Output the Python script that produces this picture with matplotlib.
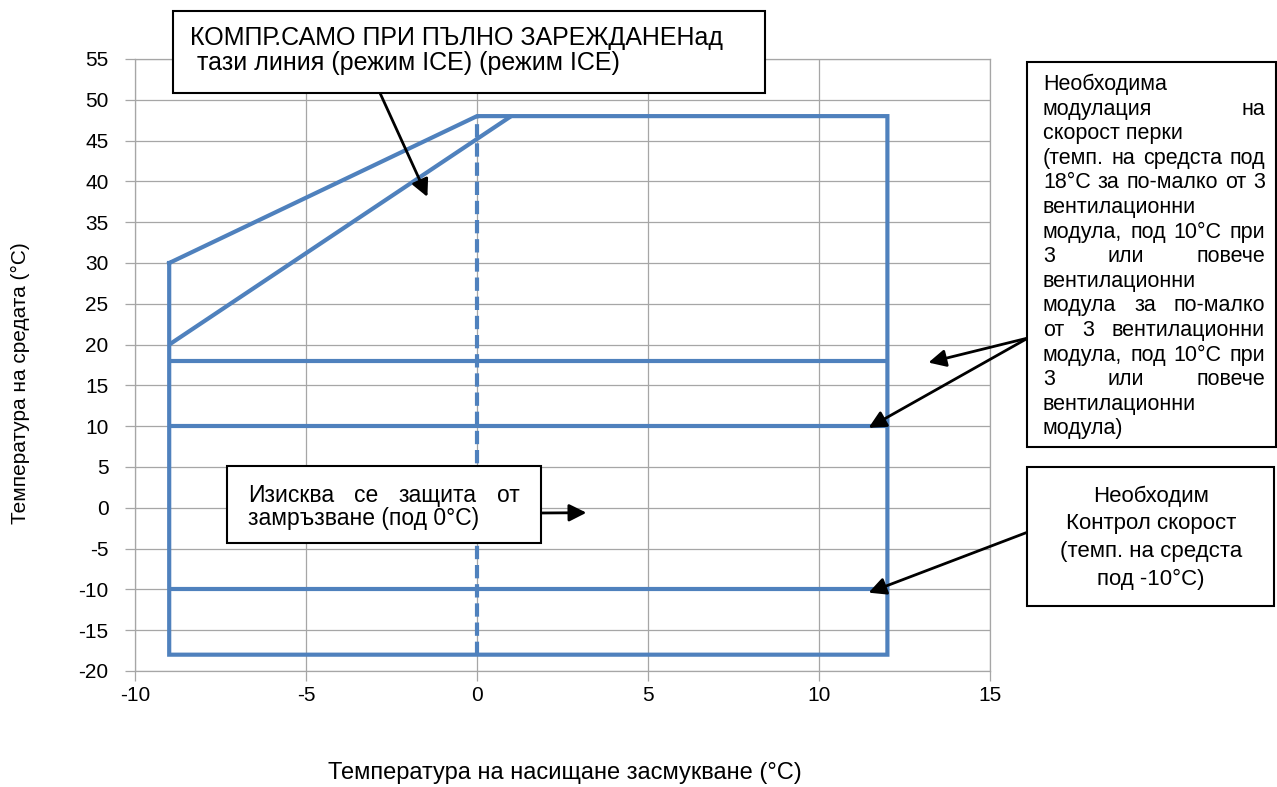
import numpy as np
import matplotlib
matplotlib.use("Agg")
import matplotlib.pyplot as plt
from matplotlib.patches import Rectangle

plt.rcParams['font.family'] = ['Liberation Sans', 'DejaVu Sans']
plt.rcParams['axes.unicode_minus'] = False

W, H = 1277, 787
BLEU = '#4F81BD'
GRIS = '#A6A6A6'

# enveloppe de fonctionnement
contour_x = [-9, 0, 12, 12, -9, -9]
contour_y = [30, 48, 48, -18, -18, 30]
diag_x = [-9, 1]
diag_y = [20, 48]
niveaux_y = [18, 10, -10]
niveaux_x = [-9, 12]
pointille_x = [0, 0]
pointille_y = [-18, 48]

x_ticks = [-10, -5, 0, 5, 10, 15]
y_ticks = list(range(-20, 56, 5))

# textes des encadrés
txt_haut = ["КОМПР.САМО ПРИ ПЪЛНО ЗАРЕЖДАНЕНад", " тази линия (режим ICE) (режим ICE)"]
txt_modul = [("Необходима", False), ("модулация на", True), ("скорост перки", False),
             ("(темп. на средста под", True), ("18°C за по-малко от 3", True),
             ("вентилационни", False), ("модула, под 10°C при", True),
             ("3 или повече", True), ("вентилационни", False),
             ("модула за по-малко", True), ("от 3 вентилационни", True),
             ("модула, под 10°C при", True), ("3 или повече", True),
             ("вентилационни", False), ("модула)", False)]
txt_ctrl = ["Необходим", "Контрол скорост", "(темп. на средста", "под -10°C)"]
txt_gel = [("Изисква се защита от", True), ("замръзване (под 0°C)", False)]

# flèches : cible (données) <- départ (pixels)
fleche_cible = [(-1.45, 38.1), (13.2, 17.8), (11.45, 9.8), (11.45, -10.4), (3.2, -0.6)]
fleche_depart = [(380, 93), (1028, 338), (1028, 338), (1028, 532), (541, 513)]


def fxy(px, py):
    """pixels (origine en haut a gauche) -> fraction de figure"""
    return px / W, 1 - py / H


def boite(fig, x0, y0, x1, y1):
    r = Rectangle(fxy(x0, y1), (x1 - x0) / W, (y1 - y0) / H, transform=fig.transFigure,
                  facecolor='white', edgecolor='black', lw=1.5, zorder=2)
    fig.patches.append(r)


def ligne(fig, rend, texte, x0, x1, y, taille, justif):
    mots = texte.split()
    if not justif or len(mots) < 2:
        fig.text(*fxy(x0, y), texte, fontsize=taille, va='baseline', zorder=3)
        return
    objs = [fig.text(0, 0, m, fontsize=taille, va='baseline', zorder=3) for m in mots]
    larg = [o.get_window_extent(rend).width for o in objs]
    ecart = (x1 - x0 - sum(larg)) / (len(mots) - 1)
    x = x0
    for o, l in zip(objs, larg):
        o.set_position(fxy(x, y))
        x += l + ecart


fig = plt.figure(figsize=(W / 100, H / 100), dpi=100)
ax = fig.add_axes([135 / W, 1 - 671 / H, (990 - 135) / W, (671 - 59) / H])

ax.plot(contour_x, contour_y, color=BLEU, lw=3, solid_joinstyle='miter', zorder=3)
ax.plot(diag_x, diag_y, color=BLEU, lw=3, solid_capstyle='butt', zorder=3)
for yv in niveaux_y:
    ax.plot(niveaux_x, [yv, yv], color=BLEU, lw=3, solid_capstyle='butt', zorder=3)
ax.plot(pointille_x, pointille_y, color=BLEU, lw=3, dashes=(3.2, 1.4), zorder=3)

ax.set_xlim(-10, 15)
ax.set_ylim(-20, 55)
ax.set_xticks(x_ticks)
ax.set_yticks(y_ticks)
ax.grid(True, color=GRIS, lw=0.9)
ax.set_axisbelow(True)
for s in ax.spines.values():
    s.set_color(GRIS)
    s.set_linewidth(0.9)
ax.tick_params(axis='both', direction='out', length=7, color=GRIS, width=0.9, labelsize=15)
ax.tick_params(axis='y', pad=12)
ax.tick_params(axis='x', pad=4)

fig.text(*fxy(20, 383), "Температура на средата (°C)", rotation=90, fontsize=15,
         ha='center', va='center')
fig.text(*fxy(565, 773), "Температура на насищане засмукване (°C)", fontsize=17,
         ha='center', va='center')

# flèches
for (cx, cy), (px, py) in zip(fleche_cible, fleche_depart):
    ax.annotate("", xy=(cx, cy), xycoords='data', xytext=fxy(px, py),
                textcoords='figure fraction', annotation_clip=False,
                arrowprops=dict(arrowstyle='-|>', color='black', lw=2,
                                mutation_scale=26, shrinkA=0, shrinkB=0))

rend = fig.canvas.get_renderer()

# encadré du haut
boite(fig, 173, 11, 765, 93)
for i, t in enumerate(txt_haut):
    ligne(fig, rend, t, 190, 750, 45 + i * 25, 18, False)

# encadré modulation
boite(fig, 1027, 62, 1276, 447)
for i, (t, j) in enumerate(txt_modul):
    ligne(fig, rend, t, 1043, 1265, 90 + i * 24.6, 15.5, j)

# encadré contrôle de vitesse
boite(fig, 1027, 467, 1274, 606)
for i, t in enumerate(txt_ctrl):
    fig.text(*fxy(1151, 502 + i * 27.5), t, fontsize=16, ha='center', va='baseline', zorder=3)

# encadré antigel
boite(fig, 227, 466, 541, 543)
for i, (t, j) in enumerate(txt_gel):
    ligne(fig, rend, t, 248, 520, 502 + i * 23, 16.5, j)

fig.savefig("out.png", dpi=100)
